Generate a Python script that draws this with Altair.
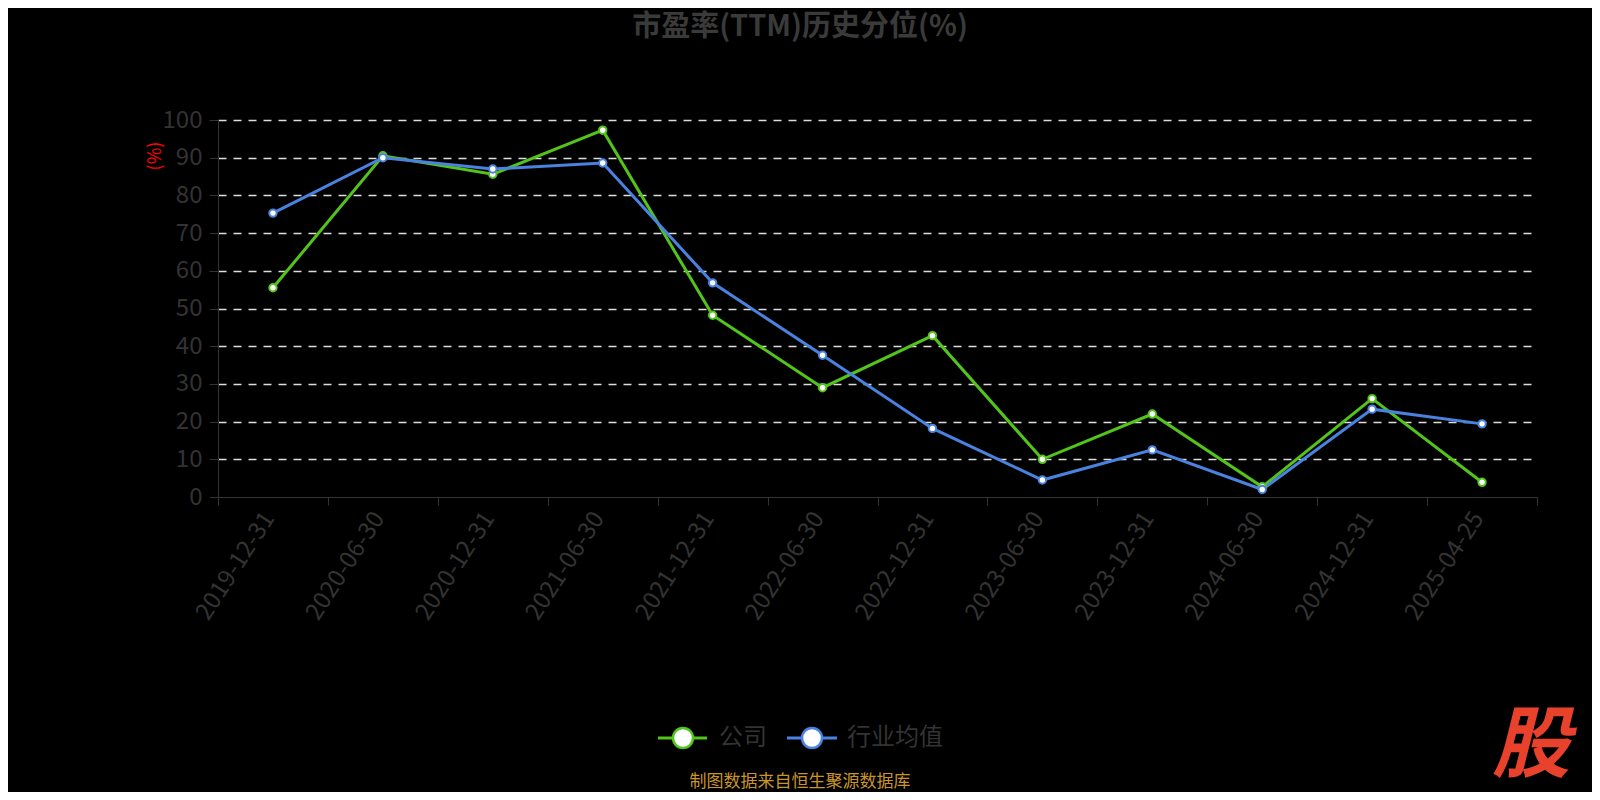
import altair as alt
import pandas as pd

dates = ["2019-12-31", "2020-06-30", "2020-12-31", "2021-06-30", "2021-12-31", "2022-06-30",
         "2022-12-31", "2023-06-30", "2023-12-31", "2024-06-30", "2024-12-31", "2025-04-25"]
company = [55.5, 90.5, 85.6, 97.3, 48.2, 29.0, 42.8, 10.0, 22.0, 2.7, 26.1, 3.9]
industry = [75.3, 90.0, 87.0, 88.6, 56.8, 37.6, 18.2, 4.5, 12.5, 2.0, 23.3, 19.4]
series_names = ["公司", "行业均值"]
series_colors = ["#52c41a", "#4a82e0"]

FONT = "Noto Sans CJK SC"
GRAY = "#333333"

rows = []
for d, c, i in zip(dates, company, industry):
    rows.append({"date": d, "series": series_names[0], "value": c})
    rows.append({"date": d, "series": series_names[1], "value": i})
df = pd.DataFrame(rows)

color = alt.Color("series:N", scale=alt.Scale(domain=series_names, range=series_colors), legend=None)

x_enc = alt.X(
    "date:N", sort=dates,
    scale=alt.Scale(type="band", paddingInner=0, paddingOuter=0),
    axis=alt.Axis(title=None, tickBand="extent", labelAngle=-57, labelFontSize=24,
                  labelColor=GRAY, labelFont=FONT, domainColor=GRAY, tickColor=GRAY,
                  tickSize=8, labelPadding=9, labelOffset=-4, grid=False),
)
y_enc = alt.Y(
    "value:Q", scale=alt.Scale(domain=[0, 100]),
    axis=alt.Axis(title=None, values=list(range(0, 101, 10)), labelFontSize=24,
                  labelColor=GRAY, labelFont=FONT, domainColor=GRAY, tickColor=GRAY,
                  tickSize=9, labelPadding=7, grid=True, gridColor="#dddddd",
                  gridDash=[8, 7], gridWidth=1.3,
                  gridOpacity={"condition": {"test": "datum.value === 0", "value": 0}, "value": 1}),
)

base = alt.Chart(df)
lines = base.mark_line(strokeWidth=3).encode(x=x_enc, y=y_enc, color=color,
                                            order=alt.Order("date:N"))
points = base.mark_point(filled=True, fill="white", size=55, strokeWidth=2, opacity=1).encode(
    x=x_enc, y=y_enc,
    stroke=alt.Stroke("series:N", scale=alt.Scale(domain=series_names, range=series_colors), legend=None)
)

one = alt.Data(values=[{"a": 1}])

title = alt.Chart(one).mark_text(text="市盈率(TTM)历史分位(%)", font=FONT, fontSize=29, fontWeight="bold",
                                 color="#3a3a3a", align="center", baseline="middle").encode(
    x=alt.value(582), y=alt.value(-93))
ytitle = alt.Chart(one).mark_text(text="(%)", font=FONT, fontSize=18, color="#ff0000", angle=270,
                                  align="center", baseline="middle").encode(
    x=alt.value(-62), y=alt.value(36))

leg_y = 618
leg1_line = alt.Chart(one).mark_rule(color=series_colors[0], strokeWidth=3).encode(
    x=alt.value(440), x2=alt.value(489), y=alt.value(leg_y))
leg1_pt = alt.Chart(one).mark_point(filled=True, fill="white", stroke=series_colors[0], strokeWidth=2.5,
                                    size=400, opacity=1).encode(x=alt.value(465), y=alt.value(leg_y))
leg1_txt = alt.Chart(one).mark_text(text=series_names[0], font=FONT, fontSize=24, color=GRAY,
                                    align="left", baseline="middle").encode(x=alt.value(501), y=alt.value(leg_y))
leg2_line = alt.Chart(one).mark_rule(color=series_colors[1], strokeWidth=3).encode(
    x=alt.value(569), x2=alt.value(619), y=alt.value(leg_y))
leg2_pt = alt.Chart(one).mark_point(filled=True, fill="white", stroke=series_colors[1], strokeWidth=2.5,
                                    size=400, opacity=1).encode(x=alt.value(594), y=alt.value(leg_y))
leg2_txt = alt.Chart(one).mark_text(text=series_names[1], font=FONT, fontSize=24, color=GRAY,
                                    align="left", baseline="middle").encode(x=alt.value(629), y=alt.value(leg_y))

source = alt.Chart(one).mark_text(text="制图数据来自恒生聚源数据库", font=FONT, fontSize=17, color="#c9952a",
                                  align="center", baseline="middle").encode(x=alt.value(582), y=alt.value(662))
mark = alt.Chart(one).mark_text(text="股", font=FONT, fontSize=78, fontWeight="bold", fontStyle="italic",
                                color="#e8412c", align="center", baseline="middle").encode(
    x=alt.value(1313), y=alt.value(628))

chart = alt.layer(
    lines, points, title, ytitle,
    leg1_line, leg1_pt, leg1_txt, leg2_line, leg2_pt, leg2_txt,
    source, mark,
).properties(
    width=1319, height=377,
    autosize=alt.AutoSizeParams(type="none"),
    padding={"left": 210, "top": 112, "right": 55, "bottom": 295},
    background="black",
).configure_view(stroke=None)

chart.save("out.html", embed_options={"renderer": "svg", "actions": False})
